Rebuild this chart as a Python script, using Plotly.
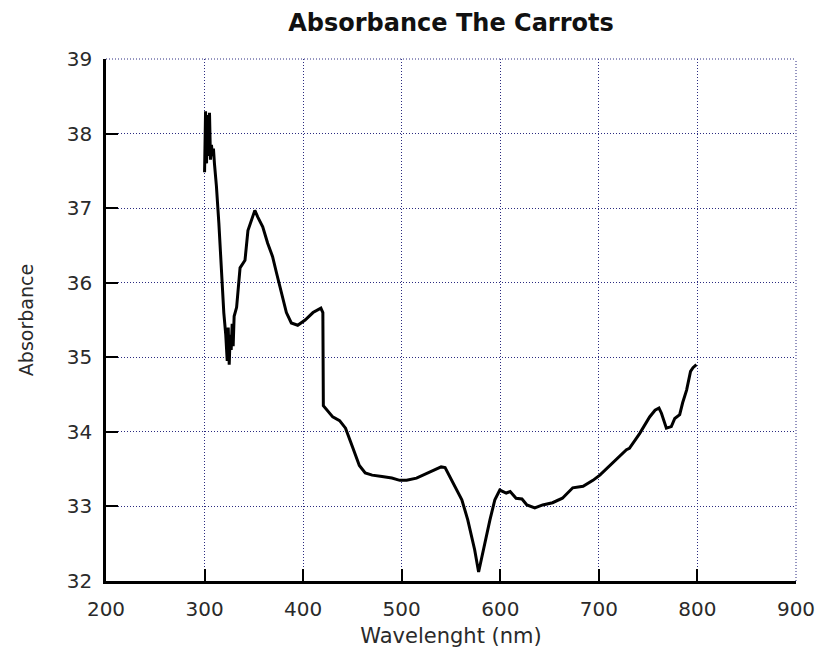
import plotly.graph_objects as go

wavelength = [300, 301, 302, 303, 304, 305, 306, 307, 308, 309, 310, 312, 314.5, 317, 319.5, 321.5,
              323, 324, 325, 326, 327, 328, 329, 330, 332.5, 336, 341, 344, 347.5, 351, 354, 359,
              364, 369, 373, 376.5, 379.5, 383, 388, 394.5, 402, 410, 418, 420, 420.5, 425, 430,
              437, 443, 450, 457, 463, 470, 480, 490, 498, 505, 515, 528, 540, 544, 552, 561, 567,
              574, 578, 582, 589.5, 594.5, 599.5, 606, 610, 616, 622, 627, 635, 643, 653, 663,
              673.5, 684, 694, 701, 714, 728, 731, 741.5, 751.5, 757, 761, 763.5, 768.5, 773.5,
              777, 782, 785, 789, 793, 795.5, 799]
absorbance = [37.48, 38.3, 37.6, 38.25, 37.7, 38.28, 37.65, 37.85, 37.7, 37.8, 37.6, 37.3, 36.8,
              36.15, 35.6, 35.3, 34.95, 35.4, 34.9, 35.3, 35.1, 35.45, 35.15, 35.55, 35.67, 36.2,
              36.3, 36.7, 36.84, 36.97, 36.88, 36.75, 36.53, 36.35, 36.13, 35.94, 35.77, 35.6,
              35.46, 35.43, 35.5, 35.6, 35.66, 35.6, 34.35, 34.28, 34.2, 34.15, 34.05, 33.8, 33.55,
              33.45, 33.42, 33.4, 33.38, 33.35, 33.35, 33.38, 33.46, 33.53, 33.52, 33.31, 33.09,
              32.82, 32.42, 32.12, 32.37, 32.82, 33.09, 33.22, 33.18, 33.2, 33.11, 33.1, 33.02,
              32.98, 33.02, 33.05, 33.11, 33.25, 33.27, 33.35, 33.42, 33.58, 33.76, 33.78, 33.98,
              34.2, 34.29, 34.32, 34.25, 34.05, 34.07, 34.18, 34.23, 34.39, 34.56, 34.81, 34.86,
              34.9]

x_ticks = [200, 300, 400, 500, 600, 700, 800, 900]
y_ticks = [32, 33, 34, 35, 36, 37, 38, 39]

title_text = "Absorbance The Carrots"
x_title = "Wavelenght (nm)"
y_title = "Absorbance"

FONT = "DejaVu Sans, Verdana, sans-serif"
GRID = "#2b2b80"
TXT = "#2a2a2a"

W, H = 817, 653

fig = go.Figure()
fig.add_trace(go.Scatter(x=wavelength, y=absorbance, mode="lines",
                         line=dict(color="black", width=3), showlegend=False))

axis_common = dict(
    showgrid=True, gridcolor=GRID, gridwidth=1, griddash="1px,2px",
    showline=True, linecolor="black", linewidth=2.5,
    ticks="inside", ticklen=12, tickwidth=1.5, tickcolor="black",
    tickfont=dict(family=FONT, size=20, color=TXT),
    zeroline=False, automargin=False, ticklabeloverflow="allow",
)

fig.update_xaxes(range=[200, 900], tickvals=x_ticks, ticktext=[str(v) for v in x_ticks],
                 ticklabelstandoff=8,
                 title=dict(text=x_title, font=dict(family=FONT, size=21, color=TXT), standoff=9),
                 **axis_common)
fig.update_yaxes(range=[32, 39], tickvals=y_ticks, ticktext=[str(v) for v in y_ticks],
                 ticklabelstandoff=7,
                 title=dict(text=y_title, font=dict(family=FONT, size=19, color=TXT), standoff=29),
                 **axis_common)

# dotted top and right border
fig.add_shape(type="line", xref="paper", yref="paper", x0=0, x1=1, y0=1, y1=1,
              line=dict(color=GRID, width=1, dash="1px,2px"))
fig.add_shape(type="line", xref="paper", yref="paper", x0=1, x1=1, y0=0, y1=1,
              line=dict(color=GRID, width=1, dash="1px,2px"))

fig.update_layout(
    width=W, height=H,
    margin=dict(l=106, r=21, t=59, b=72),
    paper_bgcolor="white", plot_bgcolor="white",
    title=dict(text="<b>" + title_text + "</b>", x=0.5, xref="paper", xanchor="center",
               y=1 - 23 / H, yref="container", yanchor="middle", automargin=False,
               font=dict(family=FONT, size=24, color="#111111")),
)

fig.write_html("out.html", config={"displayModeBar": False},
               post_script="document.body.style.margin='0';document.body.style.overflow='hidden';")
